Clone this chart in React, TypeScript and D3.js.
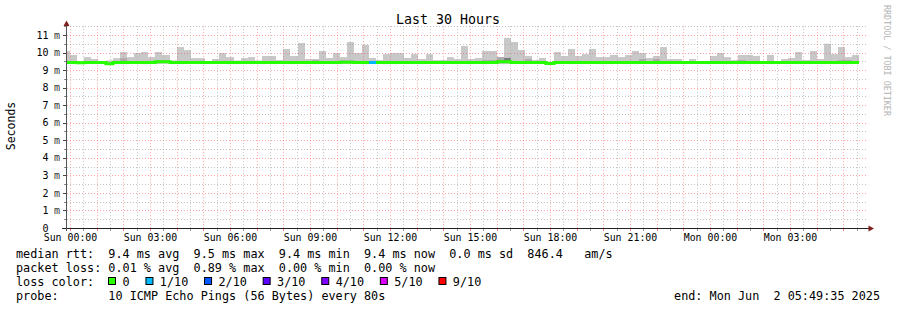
import React from "react";
import * as d3 from "d3";

// ---------- data ----------
const W = 897;
const H = 310;

// time domain of the plot (30 hours) and smoke bins (16 minute steps)
const timeStart = Date.UTC(2025, 4, 31, 23, 53, 15);
const timeEnd = Date.UTC(2025, 5, 2, 5, 53, 15);
const firstBin = Date.UTC(2025, 4, 31, 23, 44, 0);
const binStepMin = 16;

// upper edge of smoke (ms)
const smokeMax = [
  10.08, 9.86, 9.5, 9.74, 9.63, 9.5, 9.55, 9.68, 10.03, 9.74,
  9.97, 10.03, 9.74, 10.03, 9.86, 9.55, 10.31, 10.14, 9.68, 9.68,
  9.5, 9.63, 9.97, 9.74, 9.55, 9.68, 9.74, 9.55, 9.8, 9.8,
  9.57, 10.2, 9.8, 10.54, 9.63, 9.6, 10.09, 9.69, 9.97, 9.74,
  10.6, 9.97, 10.43, 9.69, 9.57, 9.91, 9.97, 9.97, 9.69, 9.91,
  9.63, 9.91, 9.57, 9.57, 9.74, 9.63, 10.37, 9.63, 9.69, 10.09,
  10.09, 9.74, 10.83, 10.6, 10.14, 9.8, 9.57, 9.69, 9.48, 10.03,
  9.8, 10.2, 9.8, 9.91, 10.2, 9.74, 9.74, 9.86, 9.74, 9.86,
  10.09, 9.97, 9.69, 9.8, 10.31, 9.63, 9.63, 9.5, 9.63, 9.5,
  9.5, 9.8, 9.97, 9.74, 9.57, 9.86, 9.86, 9.8, 9.5, 9.86,
  9.48, 9.63, 9.69, 10.03, 9.57, 10.09, 9.63, 10.5, 9.91, 10.31,
  9.74, 9.86,
];

// lower edge of smoke (ms)
const smokeMin = [
  9.34, 9.36, 9.34, 9.35, 9.34, 9.36, 9.3, 9.34, 9.34, 9.36,
  9.34, 9.34, 9.36, 9.35, 9.36, 9.34, 9.34, 9.35, 9.36, 9.34,
  9.34, 9.36, 9.35, 9.34, 9.34, 9.36, 9.34, 9.36, 9.35, 9.34,
  9.36, 9.34, 9.34, 9.35, 9.36, 9.34, 9.34, 9.36, 9.34, 9.35,
  9.34, 9.36, 9.34, 9.35, 9.36, 9.34, 9.34, 9.35, 9.36, 9.34,
  9.34, 9.36, 9.35, 9.34, 9.36, 9.34, 9.35, 9.34, 9.36, 9.34,
  9.35, 9.34, 9.34, 9.36, 9.34, 9.35, 9.36, 9.34, 9.3, 9.34,
  9.36, 9.34, 9.35, 9.34, 9.36, 9.34, 9.35, 9.34, 9.36, 9.34,
  9.34, 9.35, 9.36, 9.34, 9.34, 9.36, 9.35, 9.34, 9.36, 9.34,
  9.34, 9.35, 9.36, 9.34, 9.34, 9.36, 9.35, 9.34, 9.36, 9.34,
  9.34, 9.35, 9.36, 9.34, 9.34, 9.36, 9.35, 9.34, 9.34, 9.36,
  9.34, 9.35,
];

// top of the darker inner smoke band (ms); equal to median where absent
const smokeInner = [
  9.43, 9.43, 9.43, 9.43, 9.43, 9.43, 9.36, 9.43, 9.68, 9.43,
  9.43, 9.43, 9.43, 9.57, 9.55, 9.43, 9.43, 9.43, 9.43, 9.43,
  9.43, 9.43, 9.43, 9.43, 9.43, 9.43, 9.43, 9.43, 9.43, 9.43,
  9.43, 9.43, 9.43, 9.43, 9.43, 9.6, 9.43, 9.43, 9.43, 9.55,
  9.55, 9.43, 9.43, 9.43, 9.43, 9.43, 9.43, 9.43, 9.43, 9.43,
  9.43, 9.43, 9.43, 9.43, 9.43, 9.43, 9.43, 9.43, 9.43, 9.57,
  9.57, 9.74, 9.69, 9.43, 9.43, 9.63, 9.43, 9.43, 9.37, 9.43,
  9.43, 9.43, 9.43, 9.43, 9.43, 9.43, 9.43, 9.43, 9.43, 9.43,
  9.43, 9.63, 9.43, 9.63, 9.43, 9.43, 9.43, 9.43, 9.43, 9.43,
  9.43, 9.43, 9.43, 9.43, 9.43, 9.57, 9.52, 9.43, 9.43, 9.43,
  9.43, 9.43, 9.43, 9.43, 9.43, 9.43, 9.43, 9.43, 9.43, 9.57,
  9.57, 9.43,
];

// darkest core band top (ms), 0 where absent
const smokeCore = [
  0, 0, 0, 0, 0, 0, 0, 0, 0, 0, 0, 0, 0, 0, 0, 0, 0, 0, 0, 0,
  0, 0, 0, 0, 0, 0, 0, 0, 0, 0, 0, 0, 0, 0, 0, 0, 0, 0, 0, 0,
  0, 0, 0, 0, 0, 0, 0, 0, 0, 0, 0, 0, 0, 0, 0, 0, 0, 0, 0, 0,
  0, 9.55, 9.69, 0, 0, 0, 0, 0, 0, 0, 0, 0, 0, 0, 0, 0, 0, 0, 0, 0,
  0, 0, 0, 0, 0, 0, 0, 0, 0, 0, 0, 0, 0, 0, 0, 0, 0, 0, 0, 0,
  0, 0, 0, 0, 0, 0, 0, 0, 0, 0, 0, 0,
];

// median rtt (ms)
const medianRtt = [
  9.43, 9.43, 9.42, 9.43, 9.43, 9.43, 9.36, 9.43, 9.43, 9.43,
  9.43, 9.43, 9.43, 9.47, 9.47, 9.43, 9.43, 9.43, 9.43, 9.43,
  9.43, 9.43, 9.43, 9.43, 9.43, 9.43, 9.43, 9.43, 9.43, 9.43,
  9.43, 9.43, 9.43, 9.43, 9.43, 9.43, 9.43, 9.43, 9.43, 9.44,
  9.44, 9.43, 9.43, 9.43, 9.43, 9.43, 9.43, 9.43, 9.43, 9.43,
  9.43, 9.43, 9.43, 9.43, 9.43, 9.43, 9.43, 9.43, 9.43, 9.43,
  9.43, 9.47, 9.47, 9.43, 9.43, 9.43, 9.43, 9.43, 9.37, 9.43,
  9.43, 9.43, 9.43, 9.43, 9.43, 9.43, 9.43, 9.43, 9.43, 9.43,
  9.43, 9.43, 9.43, 9.43, 9.43, 9.43, 9.43, 9.43, 9.43, 9.43,
  9.43, 9.43, 9.43, 9.43, 9.43, 9.43, 9.43, 9.43, 9.43, 9.43,
  9.43, 9.43, 9.43, 9.43, 9.43, 9.43, 9.43, 9.43, 9.43, 9.43,
  9.43, 9.43,
];

// packet loss per bin (index into lossColors)
const lossLevel = medianRtt.map((_, i) => (i === 43 ? 1 : 0));

const lossColors = ["#26ff00", "#00b8ff", "#0059ff", "#5e00ff", "#7e00ff", "#dd00ff", "#ff0000"];
const lossLabels = ["0", "1/10", "2/10", "3/10", "4/10", "5/10", "9/10"];

const xTickLabels = [
  "Sun 00:00", "Sun 03:00", "Sun 06:00", "Sun 09:00", "Sun 12:00",
  "Sun 15:00", "Sun 18:00", "Sun 21:00", "Mon 00:00", "Mon 03:00",
];
const yTickValues = [0, 1, 2, 3, 4, 5, 6, 7, 8, 9, 10, 11];

const legendRtt = "median rtt:  9.4 ms avg  9.5 ms max  9.4 ms min  9.4 ms now  0.0 ms sd  846.4   am/s";
const legendLoss = "packet loss: 0.01 % avg  0.89 % max  0.00 % min  0.00 % now";
const legendProbe = "probe:       10 ICMP Echo Pings (56 Bytes) every 80s";
const legendEnd = "end: Mon Jun  2 05:49:35 2025";

// ---------- layout ----------
const X0 = 67;
const X1 = 867;
const Y0 = 228;
const YT = 26.2;
const MONO = "'DejaVu Sans Mono', monospace";
const MAJOR = "rgba(255,90,90,0.55)";
const MINOR = "rgba(170,170,170,0.7)";

export default function App() {
  const x = d3.scaleUtc().domain([new Date(timeStart), new Date(timeEnd)]).range([X0, X1]);
  const y = d3.scaleLinear().domain([0, 11.5]).range([Y0, YT]);

  const bins = smokeMax.map((mx, i) => {
    const t0 = d3.utcMinute.offset(new Date(firstBin), i * binStepMin);
    const t1 = d3.utcMinute.offset(new Date(firstBin), (i + 1) * binStepMin);
    const xa = Math.max(X0, Math.round(x(t0)));
    const xb = Math.min(X1, Math.round(x(t1)));
    return { i, xa, xb, mx, mn: smokeMin[i], inner: smokeInner[i], core: smokeCore[i], med: medianRtt[i], loss: lossLevel[i] };
  });

  // grid: every 30 minutes vertically, every 0.5 ms horizontally
  const halfHours = d3.utcMinute.every(30)!.range(new Date(timeStart), new Date(timeEnd));
  const hLines = d3.range(1, 24).map((k) => k * 0.5);
  const labelTicks = d3.utcHour.every(3)!.range(new Date(timeStart), new Date(timeEnd));

  const medLine = d3
    .line<any>()
    .x((d) => d.x)
    .y((d) => d.y)
    .curve(d3.curveStepAfter);
  const medPts: { x: number; y: number }[] = [];
  bins.forEach((b) => medPts.push({ x: b.xa, y: y(b.med) }));
  const last = bins[bins.length - 1];
  medPts.push({ x: last.xb, y: y(last.med) });

  const legendBoxX0 = 108;
  let lx = legendBoxX0;
  const lossItems = lossLabels.map((lab, k) => {
    const item = { bx: lx, tx: lx + 14.4, lab, color: lossColors[k] };
    lx = lx + 14.4 + lab.length * 7.05 + 16;
    return item;
  });

  return (
    <svg
      width={W}
      height={H}
      style={{ position: "absolute", left: 0, top: 0, background: "#fff" }}
      fontFamily={MONO}
    >
      <rect x={0} y={0} width={W} height={H} fill="#fff" />
      {/* title */}
      <text x={448} y={24} textAnchor="middle" fontSize={13.3} fill="#000">
        Last 30 Hours
      </text>
      {/* vertical watermark */}
      <text
        transform={`translate(884,5) rotate(90)`}
        fontSize={8.4}
        fill="#b4b4b4"
        textAnchor="start"
      >
        RRDTOOL / TOBI OETIKER
      </text>
      {/* y axis label */}
      <text transform={`translate(15,126) rotate(-90)`} fontSize={11.5} textAnchor="middle" fill="#000">
        Seconds
      </text>

      {/* smoke */}
      {bins.map((b) => (
        <g key={"s" + b.i}>
          <rect x={b.xa} width={b.xb - b.xa} y={y(b.mx)} height={y(b.mn) - y(b.mx)} fill="#c8c8c8" />
          {b.inner > b.med + 0.02 && (
            <rect x={b.xa} width={b.xb - b.xa} y={y(b.inner)} height={y(b.med) - y(b.inner)} fill="#acacac" />
          )}
          {b.core > 0 && (
            <rect x={b.xa} width={b.xb - b.xa} y={y(b.core)} height={y(b.med) - y(b.core)} fill="#7c7c7c" />
          )}
        </g>
      ))}

      {/* horizontal grid */}
      {hLines.map((v) => {
        const yy = Math.round(y(v)) + 0.5;
        const major = Number.isInteger(v);
        return (
          <g key={"h" + v}>
            <line x1={X0} x2={X1 + 1} y1={yy} y2={yy} stroke={major ? MAJOR : MINOR} strokeDasharray="1,2" />
            <line x1={major ? 63 : 64} x2={66} y1={yy} y2={yy} stroke={major ? "#444" : "#888"} />
          </g>
        );
      })}
      {/* vertical grid */}
      {halfHours.map((t) => {
        const xx = Math.round(x(t)) + 0.5;
        const major = t.getUTCMinutes() === 0;
        return (
          <g key={"v" + +t}>
            <line x1={xx} x2={xx} y1={YT} y2={Y0} stroke={major ? MAJOR : MINOR} strokeDasharray="1,2" />
            <line x1={xx} x2={xx} y1={Y0 + 1} y2={Y0 + 3} stroke={major ? "rgba(255,90,90,0.8)" : "#999"} />
          </g>
        );
      })}

      {/* median line */}
      <path d={medLine(medPts) || ""} fill="none" stroke={lossColors[0]} strokeWidth={3} />
      {bins
        .filter((b) => b.loss > 0)
        .map((b) => (
          <line key={"l" + b.i} x1={b.xa} x2={b.xb} y1={y(b.med)} y2={y(b.med)} stroke={lossColors[b.loss]} strokeWidth={3} />
        ))}

      {/* axes */}
      <line x1={62} x2={869} y1={Y0 + 0.5} y2={Y0 + 0.5} stroke="#222" />
      <line x1={66.5} x2={66.5} y1={Y0 + 3} y2={24} stroke="#555" />
      <path d={`M66.5,20.5 L63.5,26 L69.5,26 Z`} fill="#7f1f1f" />
      <path d={`M874,228.5 L868.5,225.5 L868.5,231.5 Z`} fill="#7f1f1f" />

      {/* y tick labels */}
      {yTickValues.map((v) => (
        <g key={"yl" + v}>
          <text x={48.5} y={y(v) + 3.6} textAnchor="end" fontSize={10} fill="#000">
            {v}
          </text>
          {v > 0 && (
            <text x={54} y={y(v) + 3.6} fontSize={10} fill="#333">
              m
            </text>
          )}
        </g>
      ))}
      {/* x tick labels */}
      {labelTicks.map((t, k) => (
        <text key={"xl" + k} x={Math.round(x(t)) + 0.5} y={241} textAnchor="middle" fontSize={9.9} fill="#000">
          {xTickLabels[k]}
        </text>
      ))}

      {/* legend */}
      <g fontSize={11.8} fill="#000" style={{ whiteSpace: "pre" }}>
        <text x={16} y={258} xmlSpace="preserve">{legendRtt}</text>
        <text x={16} y={272} xmlSpace="preserve">{legendLoss}</text>
        <text x={16} y={286} xmlSpace="preserve">loss color:</text>
        {lossItems.map((it) => (
          <g key={it.lab}>
            <rect x={it.bx + 0.5} y={277.5} width={7} height={7} fill={it.color} stroke="#000" />
            <text x={it.tx} y={286}>{it.lab}</text>
          </g>
        ))}
        <text x={16} y={300} xmlSpace="preserve">{legendProbe}</text>
        <text x={880} y={300} textAnchor="end" xmlSpace="preserve">{legendEnd}</text>
      </g>
    </svg>
  );
}
